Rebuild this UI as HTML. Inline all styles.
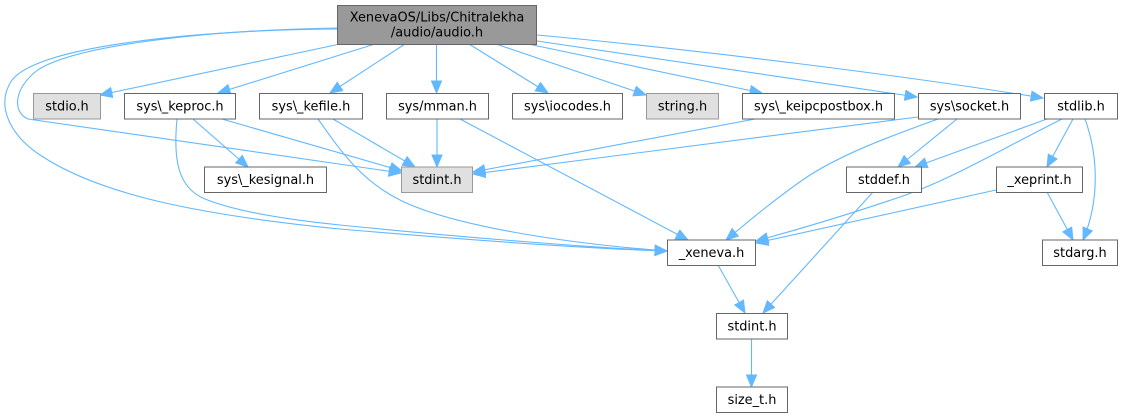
<!DOCTYPE html>
<html><head><meta charset="utf-8"><style>
html,body{margin:0;padding:0;background:#fff;}
svg{display:block;}
text{font-family:"DejaVu Sans","Liberation Sans",sans-serif;font-size:12.9px;fill:#000;text-anchor:middle;}
.e{fill:none;stroke:#63b8ff;stroke-width:1.1;}
.n{fill:#fff;stroke:#666;stroke-width:1;}
.g{fill:#e0e0e0;stroke:#999;stroke-width:1;}
.t{fill:#999;stroke:#666;stroke-width:1;}
</style></head><body>
<svg width="1123" height="417" viewBox="0 0 1123 417" xmlns="http://www.w3.org/2000/svg">
<defs>
<marker id="a" markerUnits="userSpaceOnUse" markerWidth="14" markerHeight="12" refX="12.5" refY="5.5" orient="auto">
<path d="M0.5,0.5 L12.5,5.5 L0.5,10.5 z" fill="#63b8ff" stroke="#63b8ff" stroke-width="1"/>
</marker>
</defs>
<g marker-end="url(#a)">
<!-- from top -->
<path class="e" d="M340,44 L100,95"/>
<path class="e" d="M375,44 L218,93"/>
<path class="e" d="M405,44 L330,93"/>
<path class="e" d="M436.5,44 L436.5,93"/>
<path class="e" d="M469,44 L548,93"/>
<path class="e" d="M496,44 L646,95"/>
<path class="e" d="M528,44 L762,93"/>
<path class="e" d="M537,41 L917,97"/>
<path class="e" d="M537,35 C 700,50 900,75 1043,98"/>
<path class="e" d="M337,28 C 210,30 70,45 35,72 C 12,92 14,113 28,119 L401,173"/>
<path class="e" d="M337,29 C 200,30 40,45 12,80 C -5,105 10,135 40,155 C 100,195 200,215 340,229 C 480,241 600,249 667,251"/>
<!-- keproc -->
<path class="e" d="M177,119 C 173,160 178,188 205,199 C 240,213 300,221 340,225 C 480,239 600,248 667,251"/>
<path class="e" d="M193,119 L248,167"/>
<path class="e" d="M222,119 L402,171"/>
<!-- kefile -->
<path class="e" d="M333,119 L415,167"/>
<path class="e" d="M318,119 C 340,150 360,180 400,200 C 450,225 560,243 667,251"/>
<!-- mman -->
<path class="e" d="M437,119 L437,167"/>
<path class="e" d="M460,119 L688,240"/>
<!-- keipcpostbox / socket -->
<path class="e" d="M755,119 L473,172"/>
<path class="e" d="M918,117 L473,174"/>
<path class="e" d="M938,119 C 900,133 850,150 810,175 C 780,195 750,220 726,240"/>
<path class="e" d="M957,119 L898,167"/>
<!-- stdlib -->
<path class="e" d="M1047,119 L915,167"/>
<path class="e" d="M1062,119 C 1000,150 950,180 900,197 C 850,214 800,229 756,241"/>
<path class="e" d="M1073,119 L1047,167"/>
<path class="e" d="M1085,119 C 1098,155 1100,200 1083,240"/>
<!-- xeprint -->
<path class="e" d="M996,190 L756,243"/>
<path class="e" d="M1047,192 L1073,240"/>
<!-- lower -->
<path class="e" d="M873,192 L763,313"/>
<path class="e" d="M718,265 L745,313"/>
<path class="e" d="M751.5,339 L751.5,387"/>
</g>

<!-- nodes -->
<rect class="t" x="337.5" y="5.5" width="199" height="39"/>
<text x="437" y="21.5">XenevaOS/Libs/Chitralekha</text>
<text x="437" y="36.5">/audio/audio.h</text>

<rect class="g" x="33.5" y="93.5" width="67" height="25.5"/><text x="67" y="110.5">stdio.h</text>
<rect class="n" x="124.5" y="93.5" width="111" height="25.5"/><text x="180" y="110.5">sys\_keproc.h</text>
<rect class="n" x="259.5" y="93.5" width="103" height="25.5"/><text x="311" y="110.5">sys\_kefile.h</text>
<rect class="n" x="386.5" y="93.5" width="102" height="25.5"/><text x="437.5" y="110.5">sys/mman.h</text>
<rect class="n" x="512.5" y="93.5" width="110" height="25.5"/><text x="567.5" y="110.5">sys\iocodes.h</text>
<rect class="g" x="646.5" y="93.5" width="72" height="25.5"/><text x="682.5" y="110.5">string.h</text>
<rect class="n" x="742.5" y="93.5" width="152" height="25.5"/><text x="818.5" y="110.5">sys\_keipcpostbox.h</text>
<rect class="n" x="918.5" y="93.5" width="102" height="25.5"/><text x="969.5" y="110.5">sys\socket.h</text>
<rect class="n" x="1044.5" y="93.5" width="73" height="25.5"/><text x="1081" y="110.5">stdlib.h</text>

<rect class="n" x="204.5" y="167" width="122" height="25.5"/><text x="265.5" y="184">sys\_kesignal.h</text>
<rect class="g" x="401.5" y="167" width="71" height="25.5"/><text x="437" y="184">stdint.h</text>
<rect class="n" x="846.5" y="167" width="75" height="25.5"/><text x="884" y="184">stddef.h</text>
<rect class="n" x="996.5" y="167" width="86" height="25.5"/><text x="1039.5" y="184">_xeprint.h</text>

<rect class="n" x="667.5" y="240" width="88" height="25.5"/><text x="711.5" y="257">_xeneva.h</text>
<rect class="n" x="1042.5" y="240" width="75" height="25.5"/><text x="1080" y="257">stdarg.h</text>

<rect class="n" x="716.5" y="313.5" width="71" height="25.5"/><text x="752" y="330.5">stdint.h</text>
<rect class="n" x="716.5" y="387" width="71" height="25.5"/><text x="752" y="404">size_t.h</text>
</svg>
</body></html>
